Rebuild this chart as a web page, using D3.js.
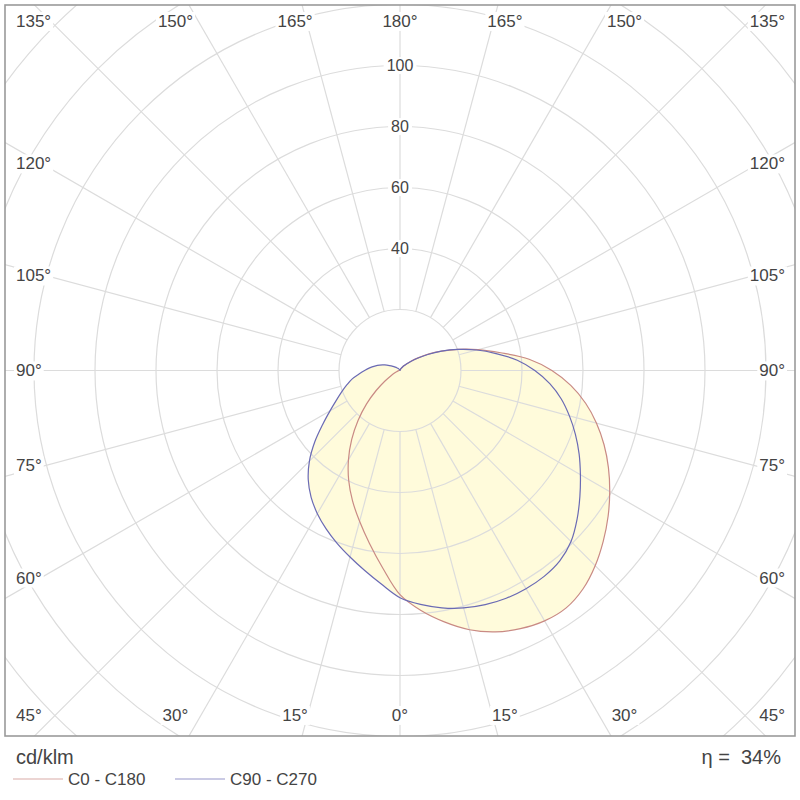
<!DOCTYPE html>
<html><head><meta charset="utf-8">
<script src="https://cdn.jsdelivr.net/npm/d3@7"></script>
<style>body{margin:0;background:#fff}</style>
</head><body>
<svg id="c" width="800" height="800"></svg>
<script>
// ---- data (cd/klm), gamma angles 0..180 step 5 ----
const gammaAngles = [0,5,10,15,20,25,30,35,40,45,50,55,60,65,70,75,80,85,90,95,100,105,110,115,120,125,130,135,140,145,150,155,160,165,170,175,180];
const c0   = [73.5,79,83.7,88,91.2,93.4,94.8,95,93.4,90.5,87,83.3,79.4,75.4,71.2,66.7,61.8,56.2,49.8,42.5,33.5,26.5,20.3,15,10.7,7.2,4.7,3,2,1.3,0.9,0.6,0.4,0.25,0.15,0.05,0];
const c180 = [73.5,65,57.6,51.2,45.5,39.8,33.8,27.6,21.4,15.5,10.2,6,3.4,2,1.2,0.8,0.5,0.4,0.3,0.25,0.2,0.2,0.15,0.15,0.1,0.1,0.1,0.1,0.05,0.05,0,0,0,0,0,0,0];
const c90  = [74.5,77,79,80.6,81.7,82.4,82.6,82.4,81.5,79.3,75.8,72,68.3,64.8,61.2,57.5,53.7,49.3,44.2,38.6,32,26,20.2,15,10.5,7,4.6,3,2,1.3,0.9,0.6,0.4,0.25,0.15,0.05,0];
const c270 = [74.5,70.3,66.6,63.3,60.3,57.3,54.2,50.8,46.8,42,36.5,31,26.5,23,20.3,18,15.9,13.5,11.6,10,8.4,6.9,5.3,3.8,2.7,1.9,1.4,1,0.75,0.55,0.4,0.3,0.2,0.15,0.1,0.05,0];
const ringValues = [20,40,60,80,100,120,140,160,180];
const ringLabels = [40,60,80,100];
const angleLabels = [0,15,30,45,60,75,90,105,120,135,150,165,180];
const legendNames = ["C0 - C180","C90 - C270"];
const legendColors = ["#c98a84","#6a6ab4"];
const unitText = "cd/klm";
const etaText = "η =  34%";

// ---- layout ----
const svg = d3.select("#c");
const box = {x0:5, y0:5, x1:795, y1:736};
const cx = 400, cy = (box.y0 + box.y1)/2;
const r = d3.scaleLinear().domain([0,100]).range([0,305]);
const font = "Arial, 'Liberation Sans', sans-serif";

svg.append("defs").append("clipPath").attr("id","clip")
  .append("rect").attr("x",box.x0).attr("y",box.y0)
  .attr("width",box.x1-box.x0).attr("height",box.y1-box.y0);

const g = svg.append("g").attr("clip-path","url(#clip)");
const plot = g.append("g").attr("transform",`translate(${cx},${cy})`);

function curvePoints(pos, neg){
  const pts = [];
  for (let i = gammaAngles.length-1; i >= 0; i--) pts.push({t:-gammaAngles[i], v:neg[i]});
  for (let i = 1; i < gammaAngles.length-1; i++) pts.push({t:gammaAngles[i], v:pos[i]});
  return pts;
}
const line = d3.lineRadial()
  .angle(d => Math.PI - d.t*Math.PI/180)
  .radius(d => r(d.v))
  .curve(d3.curveCatmullRomClosed);

const curves = [curvePoints(c0,c180), curvePoints(c90,c270)];

// fills
plot.selectAll("path.fill").data(curves).enter().append("path")
  .attr("d", line).attr("fill","#fffbdb").attr("stroke","none");

// rings
const gridColor = "#dcdcdc";
plot.selectAll("circle.ring").data(ringValues).enter().append("circle")
  .attr("r", d => r(d)).attr("fill","none").attr("stroke",gridColor).attr("stroke-width",1.2);

// spokes
const spokeAngles = d3.range(0,360,15);
plot.selectAll("line.spoke").data(spokeAngles).enter().append("line")
  .attr("x1", d => r(20)*Math.sin(d*Math.PI/180))
  .attr("y1", d => r(20)*Math.cos(d*Math.PI/180))
  .attr("x2", d => 800*Math.sin(d*Math.PI/180))
  .attr("y2", d => 800*Math.cos(d*Math.PI/180))
  .attr("stroke",gridColor).attr("stroke-width",1.2);

// ring labels with white background
ringLabels.forEach(v => {
  const t = plot.append("text").attr("x",0).attr("y",-r(v)).attr("dy","0.35em")
    .attr("text-anchor","middle").attr("font-family",font).attr("font-size",16)
    .attr("fill","#444").text(v);
  const bb = t.node().getBBox();
  plot.insert("rect","text").attr("x",bb.x-3).attr("y",bb.y).attr("width",bb.width+6)
    .attr("height",bb.height).attr("fill","#fff");
});

// curve strokes
plot.selectAll("path.line").data(curves).enter().append("path")
  .attr("d", line).attr("fill","none")
  .attr("stroke",(d,i)=>legendColors[i]).attr("stroke-width",1.2);

// angle labels
const lab = svg.append("g");
const Hb = box.y1 - cy, Ht = cy - box.y0, Ws = 395;
function addAngleLabel(theta, side){
  let x, y, anchor = "middle";
  const rad = a => a*Math.PI/180;
  if (theta <= 45 || theta >= 135){
    const a = theta <= 45 ? theta : 180 - theta;
    const H = theta <= 45 ? Hb : Ht;
    const off = H*Math.tan(rad(a)) + 27*Math.sin(rad(a));
    y = theta <= 45 ? 715 : 21;
    if (off > 360){ anchor = side < 0 ? "start" : "end"; x = side < 0 ? 16 : 785; }
    else x = cx + side*off;
  } else {
    const phi = theta - 90;
    const p = Math.abs(phi);
    const off = Ws*Math.tan(rad(p)) - 42*Math.sin(rad(p));
    y = cy - Math.sign(phi)*off;
    anchor = side < 0 ? "start" : "end";
    x = side < 0 ? 16 : 785;
  }
  const t = lab.append("text").attr("x",x).attr("y",y).attr("dy","0.35em")
    .attr("text-anchor",anchor).attr("font-family",font).attr("font-size",17)
    .attr("fill","#444").text(theta + "°");
  const bb = t.node().getBBox();
  lab.insert("rect","text").attr("x",bb.x-2).attr("y",bb.y).attr("width",bb.width+4)
    .attr("height",bb.height).attr("fill","#fff");
}
angleLabels.forEach(a => {
  if (a === 0 || a === 180) addAngleLabel(a, 0);
  else { addAngleLabel(a,-1); addAngleLabel(a,1); }
});

// box border
svg.append("rect").attr("x",box.x0).attr("y",box.y0)
  .attr("width",box.x1-box.x0).attr("height",box.y1-box.y0)
  .attr("fill","none").attr("stroke","#9a9a9a").attr("stroke-width",1.6);

// footer
svg.append("text").attr("x",16).attr("y",764).attr("font-family",font).attr("font-size",20)
  .attr("fill","#444").text(unitText);
svg.append("text").attr("x",781).attr("y",764).attr("text-anchor","end").attr("font-family",font)
  .attr("font-size",20).attr("fill","#444").style("white-space","pre").text(etaText);

const lg = svg.append("g");
const legX = [13, 175];
legendNames.forEach((n,i) => {
  lg.append("line").attr("x1",legX[i]).attr("x2",legX[i]+50).attr("y1",779).attr("y2",779)
    .attr("stroke",legendColors[i]).attr("stroke-width",1.2).attr("opacity",0.7);
  lg.append("text").attr("x",legX[i]+55).attr("y",779).attr("dy","0.35em")
    .attr("font-family",font).attr("font-size",17).attr("fill","#444").text(n);
});
</script>
</body></html>
